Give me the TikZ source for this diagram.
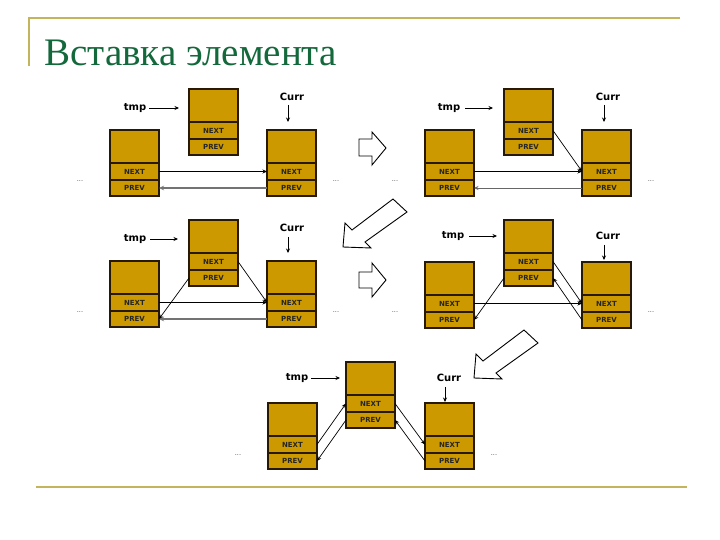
\documentclass[tikz,border=0pt]{standalone}
\usepackage{fontspec}
\setmainfont{Liberation Serif}
\newfontfamily\lblfont{DejaVu Sans}
\usetikzlibrary{arrows.meta}
\definecolor{gold}{RGB}{204,153,0}
\definecolor{rulecol}{RGB}{196,180,92}
\definecolor{titlegreen}{RGB}{20,105,60}
\definecolor{edgecol}{RGB}{40,25,5}
\newcommand\elem[3]{%
  \node[cellbox, minimum height=33pt] (#1) at (#2,#3) {};
  \node[cellbox, minimum height=17pt] (#1n) at (#2,#3+33) {NEXT};
  \node[cellbox, minimum height=16pt] (#1p) at (#2,#3+50) {PREV};}
\begin{document}
\begin{tikzpicture}[x=1pt,y=-1pt,
  cellbox/.style={draw=edgecol, fill=gold, line width=1.2pt, minimum width=49pt,
    inner sep=0pt, outer sep=0pt, anchor=north west,
    font=\lblfont\bfseries\fontsize{7}{7}\selectfont, text=black!85},
  lbl/.style={font=\lblfont\bfseries\fontsize{10}{10}\selectfont, inner sep=0pt},
  dots/.style={font=\lblfont\fontsize{6.5}{6.5}\selectfont, text=black!70, inner sep=0pt},
  ptr/.style={-{Stealth[length=4.5pt,width=4pt]}, line width=0.7pt, draw=black},
  ptrgray/.style={-{Stealth[length=5pt,width=4.5pt]}, line width=1.6pt, draw=black!55},
  ptrgraythin/.style={-{Stealth[length=4.5pt,width=4pt]}, line width=0.8pt, draw=black!60},
  block/.style={draw=black, fill=white, line width=0.9pt, line join=miter}]
\useasboundingbox (0,0) rectangle (720,540);
\fill[white] (0,0) rectangle (720,540);

% slide decoration
\draw[rulecol, line width=2pt] (28,18) -- (680,18);
\draw[rulecol, line width=2pt] (29,17) -- (29,66);
\draw[rulecol, line width=2.5pt] (36,487) -- (687,487);
\node[anchor=base west, font=\fontsize{39}{39}\selectfont, text=titlegreen, inner sep=0pt] (title) at (44,66) {Вставка элемента};

% ---------- Panel 1
\elem{A1}{110}{130} \elem{T1}{189}{89} \elem{B1}{267}{130}
\node[lbl] (tl1) at (135,108) {tmp};
\node[lbl] (cl1) at (292,97) {Curr};
\node[dots] (dl1) at (80,181) {...};
\node[dots] (dr1) at (336,181) {...};
\draw[ptr, shorten <=3pt, shorten >=10pt] (tl1.east) -- (tl1.east -| T1.west);
\draw[ptr, shorten <=4pt, shorten >=8pt] ([xshift=-4pt]cl1.south) -- ([xshift=-4pt]cl1.south |- B1.north);
\draw[ptr] (A1n.east) -- (B1n.west);
\draw[ptrgray] (B1p.west) -- (A1p.east);

% ---------- Panel 2
\elem{A2}{425}{130} \elem{T2}{504}{89} \elem{B2}{582}{130}
\node[lbl] (tl2) at (449,108) {tmp};
\node[lbl] (cl2) at (608,97) {Curr};
\node[dots] (dl2) at (395,181) {...};
\node[dots] (dr2) at (651,181) {...};
\draw[ptr, shorten <=5pt, shorten >=11pt] (tl2.east) -- (tl2.east -| T2.west);
\draw[ptr, shorten <=4pt, shorten >=8pt] ([xshift=-4pt]cl2.south) -- ([xshift=-4pt]cl2.south |- B2.north);
\draw[ptr] (A2n.east) -- (B2n.west);
\draw[ptrgraythin] (B2p.west) -- (A2p.east);
\draw[ptr] (T2n.east) -- (B2n.west);

% ---------- Panel 3
\elem{A3}{110}{261} \elem{T3}{189}{220} \elem{B3}{267}{261}
\node[lbl] (tl3) at (135,239) {tmp};
\node[lbl] (cl3) at (292,228) {Curr};
\node[dots] (dl3) at (80,312) {...};
\node[dots] (dr3) at (336,312) {...};
\draw[ptr, shorten <=4pt, shorten >=11pt] (tl3.east) -- (tl3.east -| T3.west);
\draw[ptr, shorten <=5pt, shorten >=8pt] ([xshift=-4pt]cl3.south) -- ([xshift=-4pt]cl3.south |- B3.north);
\draw[ptr] (A3n.east) -- (B3n.west);
\draw[ptrgray] (B3p.west) -- (A3p.east);
\draw[ptr] (T3n.east) -- (B3n.west);
\draw[ptr] (T3p.west) -- (A3p.east);

% ---------- Panel 4
\elem{A4}{425}{262} \elem{T4}{504}{220} \elem{B4}{582}{262}
\node[lbl] (tl4) at (453,236) {tmp};
\node[lbl] (cl4) at (608,236) {Curr};
\node[dots] (dl4) at (395,312) {...};
\node[dots] (dr4) at (651,312) {...};
\draw[ptr, shorten <=5pt, shorten >=7pt] (tl4.east) -- (tl4.east -| T4.west);
\draw[ptr, shorten <=5pt, shorten >=2pt] ([xshift=-4pt]cl4.south) -- ([xshift=-4pt]cl4.south |- B4.north);
\draw[ptr] (A4n.east) -- (B4n.west);
\draw[ptr] (T4n.east) -- (B4n.west);
\draw[ptr] (B4p.west) -- (T4p.east);
\draw[ptr] (T4p.west) -- (A4p.east);

% ---------- Panel 5
\elem{A5}{268}{403} \elem{T5}{346}{362} \elem{B5}{425}{403}
\node[lbl] (tl5) at (297,378) {tmp};
\node[lbl] (cl5) at (449,378) {Curr};
\node[dots] (dl5) at (238,455) {...};
\node[dots] (dr5) at (494,455) {...};
\draw[ptr, shorten <=3pt, shorten >=6pt] (tl5.east) -- (tl5.east -| T5.west);
\draw[ptr, shorten <=5pt, shorten >=1pt] ([xshift=-4pt]cl5.south) -- ([xshift=-4pt]cl5.south |- B5.north);
\draw[ptr] (A5n.east) -- (T5n.west);
\draw[ptr] (T5p.west) -- (A5p.east);
\draw[ptr] (T5n.east) -- (B5n.west);
\draw[ptr] (B5p.west) -- (T5p.east);

% ---------- block arrows
\draw[block] (359,139) -- (372,139) -- (372,132) -- (386,148) -- (372,165) -- (372,156) -- (359,156) -- cycle;
\draw[block] (359,272) -- (372,272) -- (372,263) -- (386,280) -- (372,297) -- (372,288) -- (359,288) -- cycle;
\draw[block] (393,199) -- (407,212) -- (365,242) -- (371,248) -- (343,247) -- (345,223) -- (352,230) -- cycle;
\draw[block] (524,330) -- (538,343) -- (496,373) -- (502,379) -- (474,378) -- (476,354) -- (483,361) -- cycle;
\end{tikzpicture}
\end{document}
